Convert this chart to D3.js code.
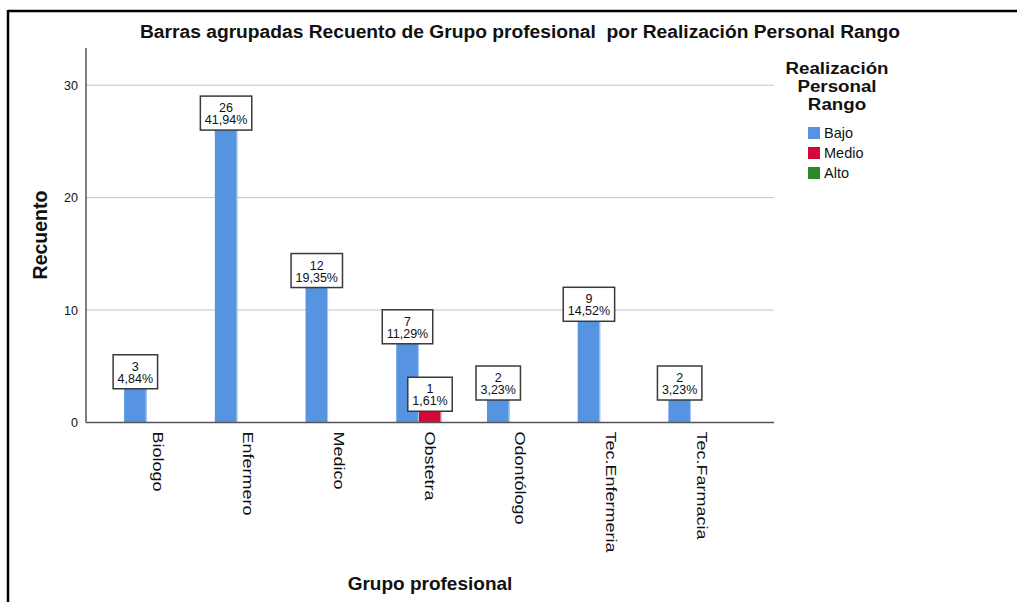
<!DOCTYPE html>
<html>
<head>
<meta charset="utf-8">
<script src="https://cdn.jsdelivr.net/npm/d3@7"></script>
<style>
  html, body { margin: 0; padding: 0; background: #fff; }
  svg { display: block; }
  text { font-family: "Liberation Sans", Arial, sans-serif; fill: #111; white-space: pre; }
</style>
</head>
<body>
<svg id="chart" width="1017" height="602"></svg>
<script>
// ---- data ----
const categories = ["Biologo", "Enfermero", "Medico", "Obstetra", "Odontólogo", "Tec.Enfermeria", "Tec.Farmacia"];
const seriesNames = ["Bajo", "Medio", "Alto"];
const bajo  = [3, 26, 12, 7, 2, 9, 2];
const medio = [0, 0, 0, 1, 0, 0, 0];
const alto  = [0, 0, 0, 0, 0, 0, 0];
const bajoPct  = ["4,84%", "41,94%", "19,35%", "11,29%", "3,23%", "14,52%", "3,23%"];
const medioPct = ["", "", "", "1,61%", "", "", ""];
const altoPct  = ["", "", "", "", "", "", ""];
const yTicks = [0, 10, 20, 30];
const colors = ["#5694e2", "#d3083a", "#2a8a2a"];

const title = "Barras agrupadas Recuento de Grupo profesional  por Realización Personal Rango";
const xTitle = "Grupo profesional";
const yTitle = "Recuento";
const legendTitle = ["Realización", "Personal", "Rango"];

// ---- layout ----
const svg = d3.select("#chart");
const plot = { left: 86, right: 774, top: 48, bottom: 422.5 };

const seriesVals = [bajo, medio, alto];
const seriesPct = [bajoPct, medioPct, altoPct];
const rows = [];
categories.forEach((c, i) => {
  seriesNames.forEach((s, j) => {
    rows.push({ cat: c, series: s, j: j, value: seriesVals[j][i], pct: seriesPct[j][i] });
  });
});

const x0 = d3.scaleBand().domain(categories).range([plot.left, plot.right])
  .paddingInner(0.256).paddingOuter(0.42);
const x1 = d3.scaleBand().domain(seriesNames).range([0, x0.bandwidth()]).padding(0);
const y = d3.scaleLinear().domain([0, 33.3]).range([plot.bottom, plot.top]);

// frame border (top + left)
svg.append("line").attr("x1", 8).attr("x2", 1017).attr("y1", 11).attr("y2", 11)
  .attr("stroke", "#000").attr("stroke-width", 2.5);
svg.append("line").attr("x1", 8).attr("x2", 8).attr("y1", 10).attr("y2", 602)
  .attr("stroke", "#000").attr("stroke-width", 2.5);

// title
svg.append("text").attr("x", 520).attr("y", 38).attr("text-anchor", "middle")
  .attr("font-size", 17.5).attr("font-weight", "bold")
  .attr("textLength", 760).attr("lengthAdjust", "spacingAndGlyphs")
  .text(title);

// gridlines
svg.append("g").selectAll("line").data(yTicks.filter(d => d > 0)).join("line")
  .attr("x1", plot.left).attr("x2", plot.right)
  .attr("y1", d => y(d)).attr("y2", d => y(d))
  .attr("stroke", "#c4c4c4").attr("stroke-width", 1);

// y axis
const yAxis = d3.axisLeft(y).tickValues(yTicks).tickSize(0).tickPadding(8);
const gy = svg.append("g").attr("transform", `translate(${plot.left},0)`).call(yAxis);
gy.select(".domain").remove();
gy.selectAll("text").attr("font-size", 12.5).attr("fill", "#222")
  .style("font-family", "'Liberation Sans', Arial, sans-serif");
svg.append("line").attr("x1", plot.left).attr("x2", plot.left)
  .attr("y1", plot.top).attr("y2", plot.bottom)
  .attr("stroke", "#555").attr("stroke-width", 1.5);

// bars
const bars = svg.append("g");
bars.selectAll("rect").data(rows.filter(r => r.value > 0)).join("rect")
  .attr("x", d => x0(d.cat) + x1(d.series))
  .attr("y", d => y(d.value))
  .attr("width", x1.bandwidth())
  .attr("height", d => y(0) - y(d.value))
  .attr("fill", d => colors[d.j]);
// light edge on bars
bars.selectAll("line.edge").data(rows.filter(r => r.value > 0)).join("line")
  .attr("class", "edge")
  .attr("x1", d => x0(d.cat) + x1(d.series) + x1.bandwidth() - 0.5)
  .attr("x2", d => x0(d.cat) + x1(d.series) + x1.bandwidth() - 0.5)
  .attr("y1", d => y(d.value)).attr("y2", d => y(0))
  .attr("stroke", d => d.j === 0 ? "#a8c9f2" : "#e88a9e").attr("stroke-width", 1);

// x axis
const xAxis = d3.axisBottom(x0).tickSize(0).tickPadding(0);
const gx = svg.append("g").attr("transform", `translate(0,${plot.bottom})`).call(xAxis);
gx.select(".domain").remove();
gx.selectAll(".tick text")
  .attr("font-size", 15).attr("fill", "#222")
  .style("font-family", "'Liberation Sans', Arial, sans-serif")
  .attr("text-anchor", "start")
  .attr("transform", "translate(0,9) rotate(90) scale(1.2,1)")
  .attr("x", 0).attr("y", 0).attr("dy", "0.35em");
svg.append("line").attr("x1", plot.left).attr("x2", plot.right)
  .attr("y1", plot.bottom).attr("y2", plot.bottom)
  .attr("stroke", "#555").attr("stroke-width", 1.5);

// value label boxes
const labels = svg.append("g");
rows.filter(r => r.value > 0).forEach(d => {
  const cx = x0(d.cat) + x1(d.series) + x1.bandwidth() / 2;
  const topY = y(d.value) - 34;
  const g = labels.append("g");
  const rect = g.append("rect").attr("y", topY).attr("height", 34)
    .attr("fill", "#fff").attr("stroke", "#3a3a3a").attr("stroke-width", 1.5);
  const t1 = g.append("text").attr("x", cx).attr("y", topY + 16).attr("text-anchor", "middle")
    .attr("font-size", 12.5).text(d.value);
  const t2 = g.append("text").attr("x", cx).attr("y", topY + 28).attr("text-anchor", "middle")
    .attr("font-size", 12.5).text(d.pct);
  const w = Math.max(t1.node().getComputedTextLength(), t2.node().getComputedTextLength()) + 9;
  rect.attr("x", cx - w / 2).attr("width", w);
});

// axis titles
svg.append("text").attr("x", 430).attr("y", 590).attr("text-anchor", "middle")
  .attr("font-size", 19).attr("font-weight", "bold").text(xTitle);
svg.append("text").attr("transform", "translate(47,235) rotate(-90)")
  .attr("text-anchor", "middle").attr("font-size", 19.5).attr("font-weight", "bold").text(yTitle);

// legend
const lg = svg.append("g");
lg.selectAll("text.lt").data(legendTitle).join("text").attr("class", "lt")
  .attr("x", 837).attr("y", (d, i) => 74 + i * 18).attr("text-anchor", "middle")
  .attr("font-size", 16).attr("font-weight", "bold")
  .each(function (d) {
    const t = d3.select(this).text(d);
    const w = this.getComputedTextLength();
    t.attr("textLength", w * 1.17).attr("lengthAdjust", "spacingAndGlyphs");
  });
const items = lg.selectAll("g.item").data(seriesNames).join("g").attr("class", "item")
  .attr("transform", (d, i) => `translate(808,${127 + i * 20})`);
items.append("rect").attr("width", 12).attr("height", 12).attr("fill", (d, i) => colors[i]);
items.append("text").attr("x", 16).attr("y", 11).attr("font-size", 14.5).attr("fill", "#222").text(d => d);
</script>
</body>
</html>
